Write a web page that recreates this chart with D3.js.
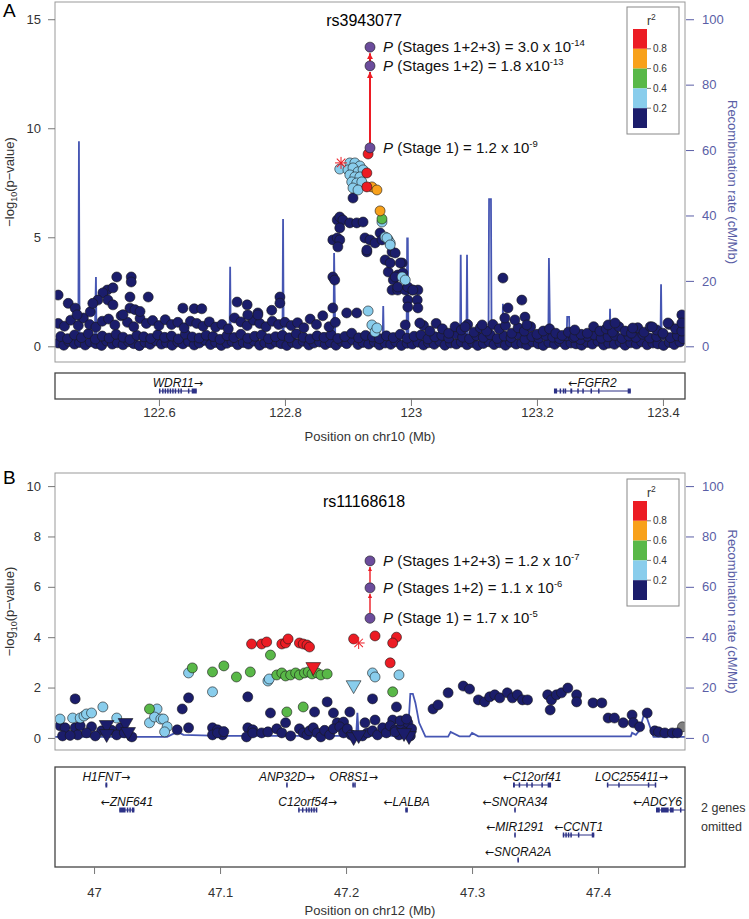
<!DOCTYPE html>
<html>
<head>
<meta charset="utf-8">
<script src="https://cdn.jsdelivr.net/npm/d3@7"></script>
<style>
body { margin: 0; background: #fff; }
text { font-family: "Liberation Sans", Arial, sans-serif; }
</style>
</head>
<body>
<div id="chart"></div>
<script>
const width = 749;
const height = 919;
const plotLeft = 55, plotRight = 685;

// r2 classes: 0-0.2, 0.2-0.4, 0.4-0.6, 0.6-0.8, 0.8-1
const r2Colors = ["#1b1d6b", "#89cdec", "#59b848", "#f8a11b", "#ec1c24"];
const r2Breaks = ["0.2", "0.4", "0.6", "0.8"];
const leadColor = "#6b4c9c";
const recombColor = "#4656b3";
const axisBlue = "#5a5ea6";
const geneColor = "#2c3186";

// ---------------- Panel A: rs3943077, chr10 ----------------
const navyA = [
  [122.533,3.18],[122.556,3.18],[122.556,2.95],[122.583,2.26],[122.554,2.26],[122.518,2.58],[122.511,2.45],
  [122.527,2.68],[122.503,2.12],[122.519,2.12],[122.554,1.75],[122.562,1.68],[122.570,1.6],[122.638,1.75],
  [122.656,1.72],[122.668,1.72],[122.724,2.03],[122.740,1.9],[122.757,1.53],[122.792,2.26],[122.792,1.98],
  [122.779,1.65],[122.440,2.35],[122.456,1.97],[122.467,1.75],[122.470,1.44],[122.491,1.58],[122.495,1.97],
  [122.527,1.9],[122.543,1.45],[122.757,1.44],[122.741,1.44],
  [122.908,6.8],[122.883,5.79],[122.887,5.93],[122.892,5.79],[122.903,5.66],[122.914,5.66],[122.924,5.70],
  [122.887,5.43],[122.876,4.88],[122.883,4.97],[122.887,4.88],[122.884,4.56],[122.927,4.97],[122.935,4.88],
  [122.943,4.74],[122.930,4.33],[122.930,4.42],[122.876,3.18],[122.879,3.04],[122.876,1.76],[122.898,1.53],[122.914,1.53],
  [122.951,5.2],[122.954,4.88],[122.959,3.96],[122.964,3.41],[122.970,4.33],[122.975,4.28],[122.986,3.82],
  [122.979,3.27],[122.972,3.04],[122.970,2.58],[122.979,2.58],[122.991,2.58],[123.002,2.58],[123.011,2.58],
  [122.995,2.12],[123.010,2.12],[122.995,1.8],[123.011,1.76],[122.991,0.98],[123.014,1.07],
  [122.967,3.82],[122.983,3.82],[122.987,3.36],[122.975,3.18],[122.979,2.72],[122.995,2.72],[123.003,2.58],
  [123.146,3.13],[123.176,2.12],[123.154,1.76],[123.149,1.3],[123.165,1.21],[123.181,1.34],[123.184,0.98],
  [123.113,0.98],[123.086,0.89],[123.260,0.75],[123.313,0.98],[123.324,1.07],[123.352,0.84],[123.383,0.89],
  [123.408,1.07],[123.430,1.44],[123.430,1.07]
];
const navyBandA = [
  [122.44,1.05],[122.45,0.92],[122.46,1.2],[122.472,0.95],[122.48,1.3],[122.49,1.0],[122.50,0.88],[122.51,1.15],
  [122.52,1.25],[122.53,0.98],[122.54,1.4],[122.55,1.1],[122.56,0.9],[122.57,1.28],[122.58,1.05],[122.59,1.18],
  [122.60,0.95],[122.61,1.22],[122.62,1.0],[122.63,1.1],[122.64,0.85],[122.65,1.15],[122.66,1.05],[122.67,0.92],
  [122.68,1.12],[122.69,0.88],[122.70,1.0],[122.71,0.8],[122.72,1.3],[122.73,1.12],[122.74,0.95],[122.75,1.2],
  [122.76,1.05],[122.77,0.9],[122.78,1.15],[122.79,1.0],[122.80,1.1],[122.81,0.95],[122.82,1.08],[122.83,0.85],
  [122.84,1.25],[122.85,1.0],[122.86,1.4],[122.87,0.9],[122.88,1.1],
  [123.02,0.95],[123.03,0.7],[123.04,1.05],[123.05,0.8],[123.06,0.6],[123.07,0.9],[123.08,0.75],[123.09,1.0],
  [123.10,0.65],[123.11,0.85],[123.12,0.7],[123.13,1.0],[123.14,0.8],[123.15,0.95],[123.16,0.6],[123.17,0.85],
  [123.18,0.7],[123.19,0.9],[123.20,0.55],[123.21,0.7],[123.22,0.8],[123.23,0.6],[123.24,0.5],[123.25,0.65],
  [123.26,0.45],[123.27,0.55],[123.28,0.6],[123.29,0.9],[123.30,0.7],[123.31,0.8],[123.32,0.65],[123.33,0.9],
  [123.34,0.7],[123.35,0.6],[123.36,0.85],[123.37,0.65],[123.38,0.9],[123.39,0.75],[123.40,0.6],[123.41,1.0],
  [123.42,0.8],[123.43,0.7]
];
const navyLowA = [
  [122.440,0.15],[122.449,0.05],[122.457,0.22],[122.466,0.1],[122.474,0.18],[122.483,0.06],[122.491,0.2],[122.500,0.12],
  [122.509,0.04],[122.517,0.24],[122.526,0.1],[122.534,0.16],[122.543,0.07],[122.552,0.21],[122.560,0.12],[122.569,0.03],
  [122.578,0.18],[122.586,0.09],[122.595,0.25],[122.604,0.1],[122.612,0.16],[122.621,0.05],[122.630,0.2],[122.638,0.11],
  [122.647,0.22],[122.656,0.06],[122.664,0.15],[122.673,0.28],[122.682,0.08],[122.690,0.18],[122.699,0.04],[122.708,0.14],
  [122.716,0.22],[122.725,0.07],[122.734,0.17],[122.742,0.1],[122.751,0.24],[122.760,0.05],[122.768,0.16],[122.777,0.09],
  [122.786,0.2],[122.794,0.12],[122.803,0.04],[122.812,0.18],[122.820,0.1],[122.829,0.23],[122.838,0.06],[122.846,0.15],
  [122.855,0.2],[122.864,0.08],[122.872,0.17],[122.881,0.05],[122.890,0.22],[122.898,0.12],[122.907,0.3],[122.916,0.08],
  [122.924,0.18],[122.933,0.1],[122.942,0.2],[122.950,0.06],[122.959,0.15],[122.968,0.09],[122.976,0.21],[122.985,0.04],
  [122.994,0.14],[123.002,0.1],[123.011,0.19],[123.020,0.06],[123.028,0.16],[123.037,0.09],[123.046,0.22],[123.054,0.05],
  [123.063,0.15],[123.072,0.1],[123.080,0.2],[123.089,0.07],[123.098,0.17],[123.106,0.04],[123.115,0.13],[123.124,0.21],
  [123.132,0.08],[123.141,0.16],[123.150,0.05],[123.158,0.19],[123.167,0.1],[123.176,0.14],[123.184,0.06],[123.193,0.2],
  [123.202,0.11],[123.210,0.04],[123.219,0.17],[123.228,0.09],[123.236,0.22],[123.245,0.07],[123.254,0.15],[123.262,0.11],
  [123.271,0.05],[123.280,0.18],[123.288,0.1],[123.297,0.23],[123.306,0.06],[123.314,0.14],[123.323,0.09],[123.332,0.2],
  [123.340,0.05],[123.349,0.16],[123.358,0.1],[123.366,0.21],[123.375,0.07],[123.384,0.15],[123.392,0.11],[123.401,0.04],
  [123.410,0.18],[123.418,0.08],[123.427,0.2],
  [122.444,0.45],[122.455,0.35],[122.466,0.52],[122.477,0.4],[122.488,0.58],[122.499,0.33],[122.510,0.47],[122.521,0.38],
  [122.532,0.55],[122.543,0.42],[122.554,0.31],[122.565,0.5],[122.576,0.44],[122.587,0.36],[122.598,0.53],[122.609,0.41],
  [122.620,0.47],[122.631,0.34],[122.642,0.56],[122.653,0.43],[122.664,0.38],[122.675,0.51],[122.686,0.45],[122.697,0.32],
  [122.708,0.49],[122.719,0.4],[122.730,0.55],[122.741,0.37],[122.752,0.46],[122.763,0.52],[122.774,0.35],[122.785,0.44],
  [122.796,0.5],[122.807,0.39],[122.818,0.57],[122.829,0.42],[122.840,0.34],[122.851,0.48],[122.862,0.41],[122.873,0.53],
  [122.884,0.36],[122.895,0.45],[122.906,0.6],[122.917,0.39],[122.928,0.5],[122.939,0.43],[122.950,0.35],[122.961,0.48],
  [122.972,0.4],[122.983,0.55],[122.994,0.37],[123.005,0.46],[123.016,0.52],[123.027,0.34],[123.038,0.44],[123.049,0.5],
  [123.060,0.38],[123.071,0.56],[123.082,0.42],[123.093,0.35],[123.104,0.49],[123.115,0.41],[123.126,0.53],[123.137,0.36],
  [123.148,0.47],[123.159,0.4],[123.170,0.55],[123.181,0.33],[123.192,0.45],[123.203,0.38],[123.214,0.5],[123.225,0.42],
  [123.236,0.35],[123.247,0.48],[123.258,0.4],[123.269,0.31],[123.280,0.46],[123.291,0.52],[123.302,0.37],[123.313,0.44],
  [123.324,0.5],[123.335,0.36],[123.346,0.47],[123.357,0.41],[123.368,0.55],[123.379,0.38],[123.390,0.45],[123.401,0.52],
  [123.412,0.4],[123.423,0.48],[123.432,0.35]
];
const lightBlueA = [
  [122.887,8.13],[122.903,8.41],[122.911,8.41],[122.919,8.27],[122.900,8.09],[122.908,8.18],[122.916,8.0],[122.924,8.09],
  [122.903,7.86],[122.911,7.77],[122.919,7.77],[122.906,7.54],[122.914,7.49],[122.922,7.54],[122.908,7.26],[122.916,7.17],
  [122.954,5.70],[122.959,5.01],[122.964,4.88],[122.967,4.74],[122.962,4.97],[122.967,4.65],[122.986,3.18],[122.991,3.04],
  [122.932,1.62],[122.938,0.98],[122.943,0.66],[122.946,0.84]
];
const greenA = [[122.954,5.84]];
const orangeA = [[122.938,7.31],[122.946,7.17],[122.951,6.21]];
const redA = [[122.932,8.82],[122.930,7.95],[122.930,7.31]];
const asteriskA = [[122.889,8.41]];
const leadPosA = 122.935;
const leadLogPA = [13.72, 12.86, 9.1]; // stages 1+2+3, 1+2, 1
const pLabelsA = [
  { stage: " (Stages 1+2+3) = 3.0 x 10", exp: "-14" },
  { stage: " (Stages 1+2) = 1.8 x10", exp: "-13" },
  { stage: " (Stage 1) = 1.2 x 10", exp: "-9" }
];
const recombA = [
  [122.435,0.5],[122.470,0.6],[122.472,0.8],[122.473,62.7],[122.474,0.8],[122.476,0.6],
  [122.498,0.6],[122.500,21.2],[122.501,0.6],[122.560,0.8],[122.600,0.5],[122.620,0.9],[122.660,0.5],
  [122.712,0.6],[122.713,24.3],[122.714,0.6],[122.760,0.8],[122.796,0.6],[122.797,38.9],[122.798,0.6],
  [122.850,1.0],[122.877,1.0],[122.878,28.5],[122.880,1.5],[122.900,2.0],[122.920,1.0],
  [122.955,1.0],[122.956,12.3],[122.957,1.0],[122.975,2.5],[122.990,1.5],
  [122.993,1.0],[122.994,33],[122.995,33],[122.996,1.0],[123.040,1.5],
  [123.078,1.0],[123.079,28],[123.080,1.0],[123.088,1.0],[123.089,28],[123.090,1.0],
  [123.123,1.0],[123.124,45],[123.127,45],[123.128,1.0],[123.145,1.0],[123.146,13],[123.147,1.0],
  [123.218,1.0],[123.219,27],[123.221,1.0],[123.247,1.0],[123.248,9],[123.251,9],[123.252,1.0],
  [123.315,1.0],[123.316,11.5],[123.317,1.0],[123.396,1.0],[123.397,19],[123.398,1.0],[123.435,1.0]
];
const genesA = [
  { name: "WDR11", strand: 1, row: 0, start: 122.600, end: 122.660,
    exons: [[122.600,122.602],[122.605,122.606],[122.609,122.610],[122.613,122.614],[122.617,122.618],[122.621,122.622],
            [122.625,122.627],[122.630,122.631],[122.634,122.635],[122.646,122.648],[122.652,122.660]] },
  { name: "FGFR2", strand: -1, row: 0, start: 123.227, end: 123.349,
    exons: [[123.227,123.232],[123.236,123.237],[123.241,123.242],[123.244,123.246],[123.253,123.256],[123.264,123.265],
            [123.272,123.273],[123.285,123.286],[123.297,123.298],[123.344,123.349]] }
];

// ---------------- Panel B: rs11168618, chr12 ----------------
const navyB = [
  [46.985,1.55],[46.973,0.48],[46.977,0.4],[46.985,0.4],[46.989,0.48],[46.998,0.44],[47.006,0.28],[47.021,0.4],
  [47.030,0.04],[46.975,0.08],[46.987,0.12],[46.994,0.2],[46.981,0.1],[47.001,0.08],[47.014,0.3],[47.018,0.12],[47.024,0.2],
  [47.066,0.32],[47.070,1.15],[47.075,1.59],[47.075,0.4],[47.094,0.4],[47.098,0.32],[47.102,0.12],[47.094,0.12],
  [47.098,0.2],[47.103,0.25],[47.122,1.63],[47.122,0.4],[47.126,0.32],[47.121,0.04],[47.126,0.2],[47.133,0.2],[47.138,0.24],
  [47.140,0.99],[47.152,0.6],[47.145,0.36],[47.149,0.2],[47.156,0.08],[47.163,0.36],[47.166,0.2],[47.169,0.12],
  [47.171,0.28],[47.174,0.4],[47.177,0.2],[47.180,0.04],[47.183,0.3],[47.187,0.12],[47.175,1.03],[47.185,1.43],
  [47.190,0.99],[47.203,1.03],[47.193,0.6],[47.198,0.63],[47.190,0.36],[47.195,0.44],[47.198,0.2],[47.201,0.36],
  [47.204,0.12],[47.213,0.08],[47.217,0.2],[47.215,0.6],[47.221,1.55],[47.223,0.71],[47.240,1.23],[47.237,0.71],
  [47.221,0.28],[47.225,0.12],[47.229,0.4],[47.232,0.2],[47.235,0.48],[47.239,0.32],[47.242,0.12],[47.244,0.44],
  [47.247,0.24],[47.249,0.6],[47.251,0.08],[47.252,0.36],[47.243,0.68],[47.248,0.75],[47.239,0.24],
  [47.269,1.15],[47.273,1.31],[47.281,1.79],[47.293,2.06],[47.298,1.94],[47.305,1.51],[47.310,1.43],[47.314,1.63],
  [47.318,1.71],[47.322,1.59],[47.328,1.79],[47.332,1.59],[47.336,1.71],[47.340,1.51],[47.344,1.51],[47.360,1.71],
  [47.363,1.51],[47.362,1.11],[47.367,1.71],[47.371,1.79],[47.376,1.98],[47.383,1.71],[47.383,1.43],[47.396,1.39],
  [47.403,1.39],[47.408,0.79],[47.413,0.79],[47.420,0.6],[47.427,0.91],[47.428,0.6],[47.433,0.44],[47.439,0.99],
  [47.445,0.28],[47.448,0.24],[47.453,0.2],[47.459,0.2],[47.463,0.2]
];
const lightBlueB = [
  [46.973,0.75],[46.983,0.79],[46.989,0.79],[46.992,0.87],[46.994,0.95],[46.998,0.99],[47.007,1.23],[47.018,0.79],
  [47.044,0.6],[47.050,1.15],[47.048,0.83],[47.053,0.75],[47.055,0.75],[47.058,0.44],[47.056,0.24],[47.075,2.58],
  [47.094,1.83],[47.138,2.26],[47.139,2.34],[47.221,2.58],[47.223,2.42],[47.242,2.5]
];
const greenB = [
  [47.140,3.29],[47.078,2.78],[47.094,2.62],[47.103,2.86],[47.113,2.42],[47.124,2.62],[47.145,2.5],[47.149,2.58],
  [47.152,2.46],[47.156,2.5],[47.160,2.58],[47.163,2.5],[47.167,2.58],[47.170,2.62],[47.173,2.54],[47.177,2.58],
  [47.180,2.5],[47.185,2.54],[47.044,1.15],[47.153,1.03],[47.166,1.23],[47.237,1.83]
];
const redB = [
  [47.125,3.73],[47.133,3.73],[47.137,3.81],[47.149,3.73],[47.152,3.77],[47.154,3.93],[47.163,3.77],[47.166,3.73],
  [47.169,3.69],[47.171,3.61],[47.206,3.93],[47.223,4.05],[47.240,4.0],[47.237,3.77],[47.235,2.98]
];
const grayB = [[47.467,0.44]];
// downward triangles: [position, -log10 p, r2 class]
const trianglesB = [
  [47.174,2.82,4],[47.206,2.1,1],[47.010,0.52,0],[47.010,0.16,0],[47.025,0.6,0],[47.027,0.24,0],
  [47.206,0.04,0],[47.210,0.12,0],[47.250,0.08,0],[47.246,0.2,0]
];
const asteriskB = [[47.210,3.77]];
const leadPosB = 47.219;
const leadLogPB = [7.03, 5.96, 4.75];
const pLabelsB = [
  { stage: " (Stages 1+2+3) = 1.2 x 10", exp: "-7" },
  { stage: " (Stages 1+2) = 1.1 x 10", exp: "-6" },
  { stage: " (Stage 1) = 1.7 x 10", exp: "-5" }
];
const recombB = [
  [46.969,0.4],[47.058,0.4],[47.066,2.4],[47.071,1.2],[47.100,0.8],[47.208,0.8],[47.209,10],[47.210,0.8],
  [47.249,0.8],[47.251,17.5],[47.253,17.5],[47.255,14],[47.258,6],[47.263,0.5],[47.281,0.5],[47.283,2.4],
  [47.290,0.6],[47.298,0.6],[47.300,2.0],[47.305,0.6],[47.426,0.6],[47.427,2.0],[47.430,1.2],[47.433,3],
  [47.437,10.5],[47.444,0.4],[47.462,0.4],[47.463,1.5],[47.465,0.4],[47.469,0.4]
];
const genesB = [
  { name: "H1FNT", strand: 1, row: 0, start: 47.0090, end: 47.0105, exons: [[47.0090,47.0105]] },
  { name: "ANP32D", strand: 1, row: 0, start: 47.1525, end: 47.1535, exons: [[47.1525,47.1535]] },
  { name: "OR8S1", strand: 1, row: 0, start: 47.205, end: 47.207, exons: [[47.205,47.2055],[47.2065,47.207]] },
  { name: "C12orf41", strand: -1, row: 0, start: 47.3325, end: 47.3627,
    exons: [[47.3325,47.334],[47.337,47.338],[47.343,47.344],[47.347,47.348],[47.355,47.356],[47.360,47.3627]] },
  { name: "LOC255411", strand: 1, row: 0, start: 47.407, end: 47.446,
    exons: [[47.407,47.408],[47.416,47.417],[47.4395,47.4405],[47.445,47.446]] },
  { name: "ZNF641", strand: -1, row: 1, start: 47.020, end: 47.032,
    exons: [[47.020,47.025],[47.026,47.027],[47.028,47.029],[47.030,47.032]] },
  { name: "C12orf54", strand: 1, row: 1, start: 47.162, end: 47.177,
    exons: [[47.162,47.163],[47.165,47.166],[47.168,47.169],[47.170,47.171],[47.172,47.173],[47.174,47.175],[47.176,47.177]] },
  { name: "LALBA", strand: -1, row: 1, start: 47.247, end: 47.249, exons: [[47.247,47.249]] },
  { name: "SNORA34", strand: -1, row: 1, start: 47.3335, end: 47.3345, exons: [[47.3335,47.3345]] },
  { name: "ADCY6", strand: -1, row: 1, start: 47.446, end: 47.475,
    exons: [[47.446,47.449],[47.450,47.456],[47.457,47.460],[47.465,47.466],[47.469,47.470]] },
  { name: "MIR1291", strand: -1, row: 2, start: 47.3335, end: 47.3345, exons: [[47.3335,47.3345]] },
  { name: "CCNT1", strand: -1, row: 2, start: 47.372, end: 47.397,
    exons: [[47.372,47.373],[47.374,47.375],[47.376,47.377],[47.378,47.379],[47.384,47.385],[47.395,47.397]] },
  { name: "SNORA2A", strand: -1, row: 3, start: 47.336, end: 47.337, exons: [[47.336,47.337]] }
];

// ---------------- drawing ----------------
const svg = d3.select("#chart").append("svg")
  .attr("width", width)
  .attr("height", height);
const defs = svg.append("defs");

defs.append("marker")
  .attr("id", "arrowhead")
  .attr("viewBox", "0 -5 10 10")
  .attr("refX", 10)
  .attr("refY", 0)
  .attr("markerWidth", 3)
  .attr("markerHeight", 3)
  .attr("orient", "auto")
  .append("path")
  .attr("d", "M0,-5L10,0L0,5")
  .attr("fill", "#ec1c24");

function drawPanel(p) {
  const x = d3.scaleLinear().domain(p.xDomain).range([plotLeft, plotRight]);
  const y = d3.scaleLinear().domain(p.yDomain).range([p.plotBottom, p.plotTop]);
  const yRec = d3.scaleLinear().domain([0, 100]).range([y(0), y(p.yTicks[p.yTicks.length - 1])]);

  // panel letter
  svg.append("text").attr("x", 3).attr("y", p.letterY)
    .style("font-size", "19px").text(p.letter);

  defs.append("clipPath").attr("id", "clip" + p.letter)
    .append("rect")
    .attr("x", plotLeft).attr("y", p.plotTop)
    .attr("width", plotRight - plotLeft).attr("height", p.plotBottom - p.plotTop);

  const plot = svg.append("g").attr("clip-path", `url(#clip${p.letter})`);

  // recombination rate line
  plot.append("path")
    .datum(p.recomb)
    .attr("d", d3.line().x(d => x(d[0])).y(d => yRec(d[1])))
    .attr("fill", "none")
    .attr("stroke", recombColor)
    .attr("stroke-width", 1.8);

  // SNP points by r2 class
  const addPoints = (pts, color) => {
    plot.append("g").selectAll("circle")
      .data(pts)
      .join("circle")
      .attr("cx", d => x(d[0]))
      .attr("cy", d => y(d[1]))
      .attr("r", 5)
      .attr("fill", color)
      .attr("stroke", "#1a1a1a")
      .attr("stroke-width", 0.6);
  };
  p.points.forEach(s => addPoints(s.data, s.color));

  // downward triangles
  plot.append("g").selectAll("path")
    .data(p.triangles)
    .join("path")
    .attr("d", d3.symbol(d3.symbolTriangle, 95))
    .attr("transform", d => `translate(${x(d[0])},${y(d[1])}) rotate(180)`)
    .attr("fill", d => r2Colors[d[2]])
    .attr("stroke", "#1a1a1a")
    .attr("stroke-width", 0.6);

  // red asterisk
  p.asterisk.forEach(a => {
    const g = plot.append("g").attr("transform", `translate(${x(a[0])},${y(a[1])})`);
    [0, 45, 90, 135].forEach(ang => {
      g.append("line")
        .attr("x1", -6).attr("x2", 6).attr("y1", 0).attr("y2", 0)
        .attr("transform", `rotate(${ang})`)
        .attr("stroke", "#ec1c24").attr("stroke-width", 1);
    });
  });

  // lead SNP arrows and points
  const lx = x(p.leadPos);
  const arrows = [[p.leadLogP[2], p.leadLogP[1]], [p.leadLogP[1], p.leadLogP[0]]];
  arrows.forEach(a => {
    plot.append("line")
      .attr("x1", lx).attr("x2", lx)
      .attr("y1", y(a[0]) - 5).attr("y2", y(a[1]) + 6)
      .attr("stroke", "#ec1c24")
      .attr("stroke-width", p.arrowWidth)
      .attr("marker-end", "url(#arrowhead)");
  });
  plot.selectAll(".lead")
    .data(p.leadLogP)
    .join("circle")
    .attr("class", "lead")
    .attr("cx", lx)
    .attr("cy", d => y(d))
    .attr("r", 5)
    .attr("fill", leadColor)
    .attr("stroke", "#1a1a1a")
    .attr("stroke-width", 0.6);

  // p-value annotations
  p.pLabels.forEach((lab, i) => {
    const t = svg.append("text")
      .attr("x", p.textX)
      .attr("y", y(p.leadLogP[i]) + 5)
      .style("font-size", "15px")
      .attr("fill", "#111");
    t.append("tspan").style("font-style", "italic").text("P");
    t.append("tspan").text(lab.stage);
    t.append("tspan").attr("dy", -6).style("font-size", "9.5px").text(lab.exp);
  });

  // SNP title
  svg.append("text")
    .attr("x", 364).attr("y", p.titleY)
    .attr("text-anchor", "middle")
    .style("font-size", "16px")
    .text(p.title);

  // plot frame
  svg.append("rect")
    .attr("x", plotLeft).attr("y", p.plotTop)
    .attr("width", plotRight - plotLeft).attr("height", p.plotBottom - p.plotTop)
    .attr("fill", "none").attr("stroke", "#999").attr("stroke-width", 1);

  // left axis
  const yAxis = svg.append("g")
    .attr("transform", `translate(${plotLeft},0)`)
    .call(d3.axisLeft(y).tickValues(p.yTicks).tickSize(7).tickPadding(7).tickFormat(d => d));
  yAxis.select(".domain").remove();
  yAxis.selectAll("line").attr("stroke", "#777");
  yAxis.selectAll("text").attr("fill", "#333").style("font-size", "13px")
    .style("font-family", "'Liberation Sans', Arial, sans-serif");

  // right axis (recombination)
  const rAxis = svg.append("g")
    .attr("transform", `translate(${plotRight + 1},0)`)
    .call(d3.axisRight(yRec).tickValues([0, 20, 40, 60, 80, 100]).tickSize(8).tickPadding(8));
  rAxis.select(".domain").remove();
  rAxis.selectAll("line").attr("stroke", axisBlue);
  rAxis.selectAll("text").attr("fill", axisBlue).style("font-size", "13px")
    .style("font-family", "'Liberation Sans', Arial, sans-serif");

  const midY = (p.plotTop + p.plotBottom) / 2;
  const yl = svg.append("text")
    .attr("transform", `translate(14,${midY}) rotate(-90)`)
    .attr("text-anchor", "middle")
    .attr("fill", "#333")
    .style("font-size", "13px");
  yl.append("tspan").text("\u2212log");
  yl.append("tspan").attr("dy", 3).style("font-size", "9px").text("10");
  yl.append("tspan").attr("dy", -3).text("(p\u2212value)");

  svg.append("text")
    .attr("transform", `translate(728,${midY}) rotate(90)`)
    .attr("text-anchor", "middle")
    .attr("fill", axisBlue)
    .style("font-size", "13px")
    .text("Recombination rate (cM/Mb)");

  // r2 legend
  const lg = svg.append("g").attr("transform", `translate(627,${p.legendTop})`);
  lg.append("rect").attr("width", 52).attr("height", 127)
    .attr("fill", "#fff").attr("stroke", "#888");
  const barH = 19.8;
  const colorsTopDown = r2Colors.slice().reverse();
  lg.selectAll(".sw").data(colorsTopDown).join("rect")
    .attr("x", 6).attr("y", (d, i) => 22 + i * barH)
    .attr("width", 14).attr("height", barH)
    .attr("fill", d => d);
  const breaksTopDown = r2Breaks.slice().reverse();
  breaksTopDown.forEach((b, i) => {
    const by = 22 + (i + 1) * barH;
    lg.append("line").attr("x1", 20).attr("x2", 24).attr("y1", by).attr("y2", by)
      .attr("stroke", "#555").attr("stroke-width", 0.8);
    lg.append("text").attr("x", 26).attr("y", by + 3.5)
      .attr("fill", "#333").style("font-size", "10px").text(b);
  });
  const r2t = lg.append("text").attr("x", 20).attr("y", 18).attr("fill", "#333").style("font-size", "12px");
  r2t.append("tspan").text("r");
  r2t.append("tspan").attr("dy", -5).style("font-size", "8.5px").text("2");

  // gene track
  defs.append("clipPath").attr("id", "gclip" + p.letter)
    .append("rect").attr("x", plotLeft).attr("y", p.geneTop)
    .attr("width", plotRight - plotLeft).attr("height", p.geneBottom - p.geneTop);
  svg.append("rect")
    .attr("x", plotLeft).attr("y", p.geneTop)
    .attr("width", plotRight - plotLeft).attr("height", p.geneBottom - p.geneTop)
    .attr("fill", "none").attr("stroke", "#444").attr("stroke-width", 1.3);
  const gt = svg.append("g").attr("clip-path", `url(#gclip${p.letter})`);
  p.genes.forEach(gn => {
    const gy = p.geneTop + 18 + gn.row * 25;
    gt.append("line")
      .attr("x1", x(gn.start)).attr("x2", x(gn.end))
      .attr("y1", gy).attr("y2", gy)
      .attr("stroke", geneColor).attr("stroke-width", 1);
    gt.selectAll(null).data(gn.exons).join("rect")
      .attr("x", d => x(d[0]))
      .attr("y", gy - 2.5)
      .attr("width", d => Math.max(1.5, x(d[1]) - x(d[0])))
      .attr("height", 5)
      .attr("fill", geneColor);
    const lbl = svg.append("text")
      .attr("x", x((gn.start + gn.end) / 2))
      .attr("y", p.geneTop + 14 + gn.row * 25)
      .attr("text-anchor", "middle")
      .style("font-size", "12px")
      .style("font-style", "italic")
      .attr("fill", "#111");
    const arrow = (s) => lbl.append("tspan")
      .style("font-family", "'DejaVu Sans', sans-serif")
      .style("font-style", "normal")
      .style("font-size", "11px")
      .text(s);
    if (gn.strand < 0) arrow("\u2190");
    lbl.append("tspan").text(gn.name);
    if (gn.strand > 0) arrow("\u2192");
    // keep the label inside the track box
    const w = lbl.node().getComputedTextLength();
    const cx = +lbl.attr("x");
    if (cx + w / 2 > plotRight - 3) lbl.attr("x", plotRight - 3 - w / 2);
  });

  // x axis
  const xAxis = svg.append("g")
    .attr("transform", `translate(0,${p.geneBottom})`)
    .call(d3.axisBottom(x).tickValues(p.xTicks).tickSize(7).tickFormat(d => String(d)));
  xAxis.select(".domain").remove();
  xAxis.selectAll("line").attr("stroke", "#777");
  xAxis.selectAll("text")
    .attr("dy", null)
    .attr("y", p.xTickLabelY - p.geneBottom)
    .attr("fill", "#333").style("font-size", "13px")
    .style("font-family", "'Liberation Sans', Arial, sans-serif");

  svg.append("text")
    .attr("x", (plotLeft + plotRight) / 2).attr("y", p.xLabelY)
    .attr("text-anchor", "middle")
    .attr("fill", "#333")
    .style("font-size", "13px")
    .text(p.xLabel);

  if (p.omitted) {
    p.omitted.forEach((line, i) => {
      svg.append("text").attr("x", 701).attr("y", 812 + i * 19)
        .attr("fill", "#333").style("font-size", "12.5px").text(line);
    });
  }
}

drawPanel({
  letter: "A", letterY: 17,
  title: "rs3943077", titleY: 26,
  xDomain: [122.435, 123.435], yDomain: [-0.72, 15.79],
  plotTop: 2, plotBottom: 362,
  yTicks: [0, 5, 10, 15],
  xTicks: [122.6, 122.8, 123, 123.2, 123.4],
  points: [
    { data: navyLowA, color: r2Colors[0] },
    { data: navyBandA, color: r2Colors[0] },
    { data: navyA, color: r2Colors[0] },
    { data: lightBlueA, color: r2Colors[1] },
    { data: greenA, color: r2Colors[2] },
    { data: orangeA, color: r2Colors[3] },
    { data: redA, color: r2Colors[4] }
  ],
  triangles: [],
  asterisk: asteriskA,
  leadPos: leadPosA, leadLogP: leadLogPA, pLabels: pLabelsA,
  arrowWidth: 2, textX: 383,
  recomb: recombA,
  legendTop: 7,
  geneTop: 373, geneBottom: 399, genes: genesA,
  xTickLabelY: 417, xLabelY: 441,
  xLabel: "Position on chr10 (Mb)"
});

drawPanel({
  letter: "B", letterY: 484,
  title: "rs11168618", titleY: 507,
  xDomain: [46.969, 47.469], yDomain: [-0.48, 10.52],
  plotTop: 473, plotBottom: 750,
  yTicks: [0, 2, 4, 6, 8, 10],
  xTicks: [47, 47.1, 47.2, 47.3, 47.4],
  points: [
    { data: grayB, color: "#808080" },
    { data: navyB, color: r2Colors[0] },
    { data: lightBlueB, color: r2Colors[1] },
    { data: greenB, color: r2Colors[2] },
    { data: redB, color: r2Colors[4] }
  ],
  triangles: trianglesB,
  asterisk: asteriskB,
  leadPos: leadPosB, leadLogP: leadLogPB, pLabels: pLabelsB,
  arrowWidth: 1.4, textX: 383,
  recomb: recombB,
  legendTop: 479,
  geneTop: 767, geneBottom: 867, genes: genesB,
  xTickLabelY: 897, xLabelY: 915,
  xLabel: "Position on chr12 (Mb)",
  omitted: ["2 genes", "omitted"]
});
</script>
</body>
</html>
